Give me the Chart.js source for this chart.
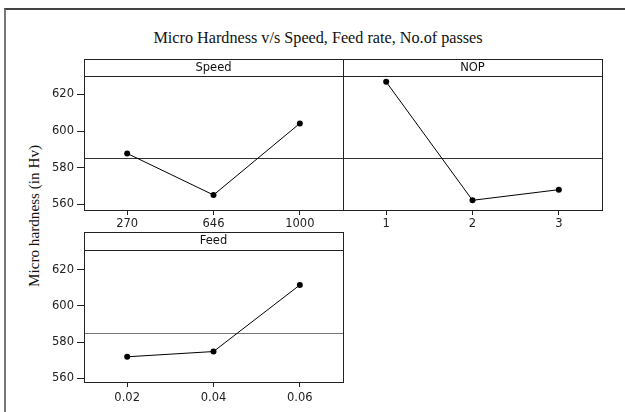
<!DOCTYPE html>
<html><head><meta charset="utf-8">
<script src="https://cdn.jsdelivr.net/npm/chart.js@4/dist/chart.umd.min.js"></script>
<style>
html,body{margin:0;padding:0;background:#fff;}
#wrap{position:relative;width:625px;height:412px;overflow:hidden;background:#fff;}
canvas{position:absolute;left:0;top:0;}
#frame{position:absolute;left:4px;top:8px;width:640px;height:420px;border-left:2px solid #777;border-top:2px solid #444;}
#title{position:absolute;left:0;top:29.5px;width:636px;text-align:center;font:16.2px "Liberation Serif";line-height:16px;color:#111;white-space:nowrap;}
#ylab{position:absolute;left:33px;top:215.5px;transform:translate(-50%,-50%) rotate(-90deg);font:15.2px "Liberation Serif";line-height:15px;color:#111;white-space:nowrap;}
</style></head>
<body>
<div id="wrap">
  <div id="frame"></div>
  <div id="title">Micro Hardness v/s Speed, Feed rate, No.of passes</div>
  <div id="ylab">Micro hardness (in Hv)</div>
  <canvas id="c1" width="625" height="412"></canvas>
  <canvas id="c2" width="625" height="412"></canvas>
  <canvas id="c3" width="625" height="412"></canvas>
</div>
<script>
const SPEED_LABELS = ['270', '646', '1000'];
const SPEED_VALUES = [587.8, 565.1, 604.2];
const NOP_LABELS = ['1', '2', '3'];
const NOP_VALUES = [626.9, 562.2, 568.0];
const FEED_LABELS = ['0.02', '0.04', '0.06'];
const FEED_VALUES = [571.9, 574.8, 611.5];
const Y_TICKS = [560, 580, 600, 620];
const GRAND_MEAN = 585.3;
const PANEL_TITLES = ['Speed', 'NOP', 'Feed'];

const FONT = {family: 'DejaVu Sans', size: 11.5};

const panelPlugin = {
  id: 'panel',
  beforeDatasetsDraw(chart, args, opts) {
    const {ctx, chartArea: a, scales: {y}} = chart;
    const py = Math.round(y.getPixelForValue(GRAND_MEAN)) + 0.5;
    ctx.save();
    ctx.strokeStyle = opts.meanColor;
    ctx.lineWidth = 1;
    ctx.beginPath();
    ctx.moveTo(a.left, py);
    ctx.lineTo(a.right, py);
    ctx.stroke();
    ctx.restore();
  },
  afterDraw(chart, args, opts) {
    const {ctx, chartArea: a} = chart;
    const hh = opts.headerH;
    ctx.save();
    ctx.strokeStyle = '#222';
    ctx.lineWidth = 1;
    ctx.strokeRect(a.left + 0.5, a.top + 0.5, a.width, a.height);
    ctx.strokeRect(a.left + 0.5, a.top - hh + 0.5, a.width, hh);
    ctx.fillStyle = '#111';
    ctx.font = FONT.size + 'px "' + FONT.family + '"';
    ctx.textAlign = 'center';
    ctx.textBaseline = 'middle';
    ctx.fillText(opts.title, (a.left + a.right) / 2, a.top - hh / 2 + 0.5);
    ctx.restore();
  }
};

function makePanel(id, labels, values, title, p) {
  return new Chart(document.getElementById(id), {
    type: 'line',
    data: {
      labels: labels,
      datasets: [{
        data: values,
        borderColor: '#000',
        borderWidth: 1,
        pointRadius: 3,
        pointBackgroundColor: '#000',
        pointBorderColor: '#000',
        pointBorderWidth: 0,
        tension: 0,
        fill: false,
        clip: false
      }]
    },
    options: {
      responsive: false,
      animation: false,
      devicePixelRatio: 1,
      events: [],
      layout: {padding: p.pad},
      plugins: {
        legend: {display: false},
        tooltip: {enabled: false},
        title: {display: false},
        panel: {title: title, headerH: p.headerH, meanColor: p.meanColor}
      },
      scales: {
        x: {
          type: 'category',
          offset: true,
          grid: {display: true, offset: false, drawOnChartArea: false, drawTicks: true, tickLength: 5, tickColor: '#222'},
          border: {display: false},
          ticks: {color: '#222', font: FONT, padding: p.xPad, maxRotation: 0, autoSkip: false},
          afterFit(s) { s.height = 20; }
        },
        y: {
          display: p.showY,
          min: p.yMin,
          max: p.yMax,
          afterBuildTicks(s) { s.ticks = Y_TICKS.map(v => ({value: v})); },
          grid: {display: true, drawOnChartArea: false, drawTicks: true, tickLength: 7, tickColor: '#222'},
          border: {display: false},
          ticks: {color: '#222', font: FONT, padding: 3},
          afterFit(s) { s.width = p.showY ? 40 : 0; }
        }
      }
    },
    plugins: [panelPlugin]
  });
}

makePanel('c1', SPEED_LABELS, SPEED_VALUES, PANEL_TITLES[0], {
  pad: {left: 44, top: 76, right: 282, bottom: 182}, headerH: 17, xPad: 2.5, showY: true, yMin: 556.9, yMax: 630.1, meanColor: '#333'
});
makePanel('c2', NOP_LABELS, NOP_VALUES, PANEL_TITLES[1], {
  pad: {left: 343, top: 76, right: 23, bottom: 182}, headerH: 17, xPad: 2.5, showY: false, yMin: 556.9, yMax: 630.1, meanColor: '#333'
});
makePanel('c3', FEED_LABELS, FEED_VALUES, PANEL_TITLES[2], {
  pad: {left: 44, top: 250, right: 282, bottom: 10}, headerH: 18, xPad: 4, showY: true, yMin: 558.0, yMax: 630.8, meanColor: '#777'
});
</script>
</body></html>
